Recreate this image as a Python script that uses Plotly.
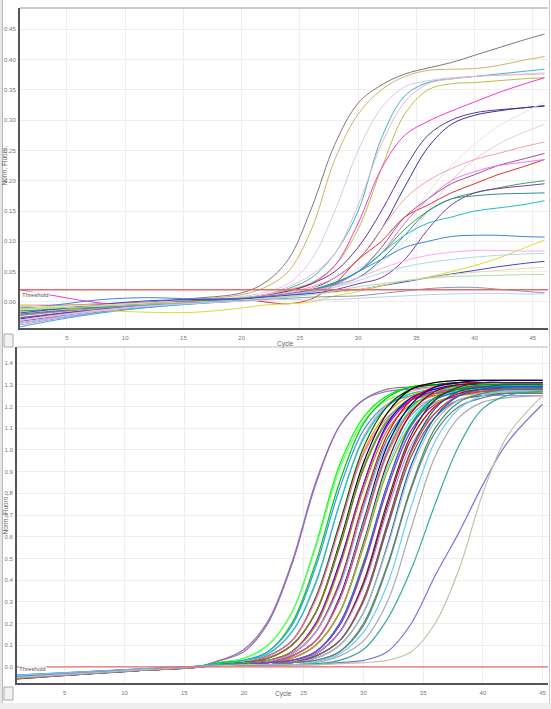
import plotly.graph_objects as go

# ---------------- data: top panel (Norm. Fluoro. vs Cycle) ----------------
cycles_top = [1, 4, 8, 12, 16, 20, 22, 24, 26, 28, 30, 32, 34, 36, 38, 40, 42, 44, 46]
top_colors = ["#7a7a7a", "#d4b06a", "#d8c8e8", "#33bbbb", "#b8c040", "#f4b0d8",
              "#ff33cc", "#663399", "#333399", "#e4e4ea", "#e8d0d6", "#f4a0a8",
              "#995588", "#e03030", "#ee77ee", "#33aa44", "#8833aa", "#338899",
              "#22bbcc", "#3388dd", "#dddd33", "#ffaaee", "#aadddd", "#4444cc",
              "#e8d8a0", "#aaddaa", "#8899aa", "#c8c8f0"]
top_values = [
    [-0.008, -0.006, -0.003, 0.0, 0.006, 0.015, 0.032, 0.07, 0.155, 0.26, 0.328, 0.358, 0.376, 0.386, 0.395, 0.407, 0.419, 0.431, 0.442],
    [-0.015, -0.012, -0.007, -0.002, 0.004, 0.012, 0.024, 0.05, 0.12, 0.235, 0.31, 0.35, 0.372, 0.382, 0.384, 0.385, 0.39, 0.398, 0.405],
    [-0.02, -0.015, -0.009, -0.004, 0.002, 0.009, 0.016, 0.03, 0.07, 0.15, 0.25, 0.32, 0.355, 0.365, 0.37, 0.372, 0.374, 0.376, 0.378],
    [-0.03, -0.022, -0.013, -0.006, 0.0, 0.006, 0.012, 0.022, 0.04, 0.08, 0.15, 0.27, 0.34, 0.362, 0.368, 0.372, 0.376, 0.38, 0.384],
    [-0.012, -0.01, -0.006, -0.002, 0.002, 0.007, 0.012, 0.02, 0.032, 0.06, 0.12, 0.22, 0.31, 0.35, 0.36, 0.362, 0.365, 0.368, 0.37],
    [-0.025, -0.019, -0.011, -0.005, 0.0, 0.006, 0.012, 0.025, 0.045, 0.08, 0.16, 0.26, 0.33, 0.36, 0.368, 0.372, 0.374, 0.375, 0.376],
    [0.02, 0.01, -0.002, -0.004, -0.001, 0.004, 0.01, 0.018, 0.03, 0.06, 0.13, 0.22, 0.275, 0.298, 0.315, 0.33, 0.345, 0.358, 0.37],
    [-0.035, -0.026, -0.016, -0.008, -0.002, 0.005, 0.01, 0.018, 0.03, 0.05, 0.09, 0.15, 0.22, 0.275, 0.3, 0.312, 0.317, 0.32, 0.324],
    [-0.028, -0.02, -0.012, -0.005, 0.0, 0.004, 0.008, 0.014, 0.022, 0.04, 0.07, 0.12, 0.19, 0.255, 0.293, 0.308, 0.315, 0.32, 0.323],
    [-0.01, -0.008, -0.005, -0.002, 0.001, 0.004, 0.008, 0.014, 0.022, 0.035, 0.055, 0.085, 0.13, 0.18, 0.225, 0.26, 0.29, 0.31, 0.33],
    [-0.018, -0.014, -0.008, -0.003, 0.0, 0.003, 0.006, 0.01, 0.016, 0.025, 0.04, 0.065, 0.1, 0.15, 0.2, 0.235, 0.26, 0.278, 0.293],
    [-0.005, -0.005, -0.004, -0.001, 0.002, 0.005, 0.01, 0.016, 0.025, 0.04, 0.07, 0.12, 0.17, 0.2, 0.22, 0.235, 0.245, 0.255, 0.264],
    [-0.032, -0.024, -0.014, -0.007, -0.002, 0.003, 0.007, 0.012, 0.02, 0.032, 0.05, 0.09, 0.14, 0.17, 0.195, 0.21, 0.225, 0.235, 0.245],
    [-0.022, -0.016, -0.01, -0.004, 0.002, 0.005, 0.0, -0.003, 0.005, 0.03, 0.07, 0.1, 0.14, 0.16, 0.18, 0.195, 0.21, 0.222, 0.235],
    [-0.038, -0.028, -0.017, -0.009, -0.003, 0.002, 0.006, 0.01, 0.016, 0.028, 0.05, 0.08, 0.13, 0.17, 0.2, 0.215, 0.225, 0.23, 0.235],
    [-0.015, -0.012, -0.008, -0.003, 0.001, 0.004, 0.008, 0.013, 0.02, 0.032, 0.05, 0.08, 0.12, 0.15, 0.17, 0.18, 0.188, 0.195, 0.2],
    [-0.026, -0.02, -0.012, -0.005, 0.0, 0.003, 0.006, 0.01, 0.014, 0.02, 0.03, 0.04, 0.07, 0.12, 0.16, 0.18, 0.187, 0.191, 0.195],
    [-0.02, -0.015, -0.009, -0.003, 0.001, 0.004, 0.008, 0.012, 0.018, 0.028, 0.04, 0.07, 0.11, 0.15, 0.17, 0.175, 0.178, 0.179, 0.18],
    [-0.041, -0.03, -0.018, -0.009, -0.003, 0.002, 0.006, 0.01, 0.017, 0.03, 0.05, 0.08, 0.11, 0.13, 0.14, 0.15, 0.155, 0.16, 0.167],
    [-0.01, -0.005, 0.004, 0.007, 0.005, 0.006, 0.009, 0.013, 0.02, 0.03, 0.05, 0.07, 0.09, 0.1, 0.108, 0.11, 0.11, 0.108, 0.107],
    [-0.005, -0.01, -0.014, -0.017, -0.017, -0.01, -0.005, -0.003, 0.0, 0.01, 0.017, 0.026, 0.034, 0.041, 0.05, 0.06, 0.072, 0.087, 0.102],
    [-0.03, -0.022, -0.013, -0.006, -0.001, 0.003, 0.007, 0.012, 0.018, 0.027, 0.04, 0.055, 0.068, 0.077, 0.082, 0.085, 0.085, 0.084, 0.084],
    [-0.035, -0.026, -0.015, -0.007, -0.002, 0.003, 0.006, 0.01, 0.015, 0.024, 0.035, 0.048, 0.058, 0.065, 0.07, 0.074, 0.077, 0.079, 0.08],
    [-0.018, -0.012, -0.004, 0.002, 0.004, 0.005, 0.008, 0.011, 0.014, 0.017, 0.02, 0.027, 0.033, 0.04, 0.046, 0.052, 0.058, 0.063, 0.067],
    [-0.008, -0.007, -0.005, -0.002, 0.0, 0.003, 0.006, 0.009, 0.012, 0.016, 0.02, 0.027, 0.035, 0.04, 0.045, 0.049, 0.052, 0.055, 0.057],
    [-0.012, -0.01, -0.007, -0.004, -0.001, 0.002, 0.005, 0.008, 0.012, 0.018, 0.025, 0.03, 0.035, 0.039, 0.042, 0.043, 0.044, 0.045, 0.045],
    [-0.022, -0.017, -0.01, -0.005, -0.001, 0.002, 0.004, 0.006, 0.008, 0.009, 0.01, 0.014, 0.018, 0.022, 0.024, 0.024, 0.021, 0.018, 0.015],
    [-0.03, -0.023, -0.014, -0.007, -0.002, 0.001, 0.003, 0.004, 0.003, 0.004, 0.006, 0.008, 0.01, 0.012, 0.013, 0.014, 0.014, 0.013, 0.013],
]
top_threshold = 0.02
top_yticks = [0.00, 0.05, 0.10, 0.15, 0.20, 0.25, 0.30, 0.35, 0.40, 0.45]

# ---------------- data: bottom panel ----------------
cycles_bottom = [1, 6, 11, 16, 18, 20, 22, 24, 26, 28, 30, 32, 34, 36, 38, 40, 42, 45]
bottom_colors = ["#808080", "#9966cc", "#00ff00", "#66ff66", "#00cc00", "#3399ff",
                 "#ff9999", "#00cccc", "#ff9900", "#006600", "#ff66cc", "#000000",
                 "#33cc33", "#996633", "#0000ff", "#cc00cc", "#999900", "#ff0000",
                 "#009999", "#cc99ff", "#000080", "#33ff33", "#999999", "#ff3399",
                 "#990000", "#00ffff", "#cc9900", "#009900", "#3366ff", "#9933cc",
                 "#333333", "#cc0000", "#9999ff", "#006666", "#ff3333", "#666666",
                 "#0066cc", "#bbbbbb", "#339966", "#777777", "#66ccff", "#aaaaaa",
                 "#33aa99", "#7777dd", "#c8c0a8"]
bottom_values = [
    [-0.045, -0.03, -0.014, 0.0, 0.03, 0.07, 0.2, 0.47, 0.84, 1.11, 1.23, 1.28, 1.29, 1.30, 1.30, 1.30, 1.30, 1.30],
    [-0.05, -0.034, -0.016, -0.001, 0.03, 0.08, 0.21, 0.48, 0.85, 1.11, 1.23, 1.27, 1.28, 1.29, 1.29, 1.29, 1.29, 1.29],
    [-0.04, -0.026, -0.012, 0.002, 0.02, 0.04, 0.10, 0.25, 0.56, 0.93, 1.15, 1.25, 1.29, 1.30, 1.30, 1.30, 1.30, 1.30],
    [-0.048, -0.032, -0.015, 0.0, 0.02, 0.04, 0.10, 0.25, 0.55, 0.91, 1.13, 1.23, 1.26, 1.27, 1.28, 1.28, 1.28, 1.28],
    [-0.042, -0.028, -0.013, 0.001, 0.02, 0.03, 0.07, 0.2, 0.48, 0.85, 1.12, 1.24, 1.29, 1.30, 1.31, 1.31, 1.31, 1.31],
    [-0.052, -0.035, -0.017, -0.002, 0.01, 0.03, 0.07, 0.19, 0.46, 0.82, 1.09, 1.21, 1.25, 1.26, 1.27, 1.27, 1.27, 1.27],
    [-0.044, -0.029, -0.014, 0.0, 0.01, 0.025, 0.06, 0.16, 0.38, 0.75, 1.06, 1.21, 1.27, 1.29, 1.30, 1.30, 1.30, 1.30],
    [-0.038, -0.024, -0.01, 0.003, 0.015, 0.03, 0.06, 0.16, 0.39, 0.75, 1.05, 1.20, 1.26, 1.28, 1.29, 1.29, 1.29, 1.29],
    [-0.046, -0.031, -0.015, 0.0, 0.01, 0.02, 0.05, 0.12, 0.31, 0.65, 0.99, 1.17, 1.25, 1.27, 1.28, 1.28, 1.28, 1.28],
    [-0.05, -0.033, -0.016, -0.001, 0.01, 0.02, 0.05, 0.12, 0.32, 0.66, 1.01, 1.20, 1.28, 1.30, 1.31, 1.31, 1.31, 1.31],
    [-0.04, -0.026, -0.011, 0.002, 0.01, 0.02, 0.05, 0.12, 0.31, 0.64, 0.98, 1.15, 1.23, 1.25, 1.26, 1.26, 1.26, 1.26],
    [-0.055, -0.036, -0.018, -0.001, 0.01, 0.02, 0.04, 0.10, 0.25, 0.57, 0.94, 1.17, 1.28, 1.31, 1.32, 1.32, 1.32, 1.32],
    [-0.043, -0.029, -0.014, 0.001, 0.01, 0.02, 0.04, 0.10, 0.25, 0.56, 0.92, 1.14, 1.24, 1.27, 1.28, 1.28, 1.28, 1.28],
    [-0.047, -0.031, -0.015, 0.0, 0.01, 0.02, 0.04, 0.10, 0.25, 0.55, 0.91, 1.13, 1.23, 1.26, 1.27, 1.27, 1.27, 1.27],
    [-0.05, -0.034, -0.017, -0.002, 0.01, 0.02, 0.03, 0.07, 0.2, 0.48, 0.84, 1.12, 1.24, 1.28, 1.30, 1.30, 1.30, 1.30],
    [-0.041, -0.027, -0.012, 0.002, 0.01, 0.02, 0.03, 0.07, 0.2, 0.47, 0.84, 1.11, 1.23, 1.27, 1.29, 1.29, 1.29, 1.29],
    [-0.045, -0.03, -0.014, 0.0, 0.01, 0.02, 0.03, 0.07, 0.19, 0.46, 0.82, 1.09, 1.21, 1.25, 1.27, 1.27, 1.27, 1.27],
    [-0.048, -0.032, -0.016, -0.001, 0.01, 0.01, 0.025, 0.06, 0.16, 0.39, 0.76, 1.07, 1.23, 1.29, 1.31, 1.31, 1.31, 1.31],
    [-0.039, -0.025, -0.011, 0.003, 0.01, 0.015, 0.025, 0.06, 0.16, 0.38, 0.74, 1.05, 1.20, 1.26, 1.28, 1.28, 1.28, 1.28],
    [-0.053, -0.035, -0.017, -0.002, 0.01, 0.01, 0.025, 0.06, 0.16, 0.37, 0.73, 1.03, 1.18, 1.24, 1.26, 1.26, 1.26, 1.26],
    [-0.046, -0.031, -0.015, 0.0, 0.01, 0.01, 0.02, 0.05, 0.12, 0.32, 0.67, 1.02, 1.21, 1.29, 1.31, 1.32, 1.32, 1.32],
    [-0.042, -0.028, -0.013, 0.001, 0.01, 0.01, 0.02, 0.05, 0.12, 0.31, 0.66, 1.00, 1.19, 1.27, 1.29, 1.30, 1.30, 1.30],
    [-0.05, -0.033, -0.016, -0.001, 0.01, 0.01, 0.02, 0.05, 0.12, 0.31, 0.64, 0.98, 1.16, 1.24, 1.26, 1.27, 1.27, 1.27],
    [-0.044, -0.029, -0.014, 0.0, 0.01, 0.01, 0.02, 0.05, 0.12, 0.31, 0.65, 0.99, 1.18, 1.26, 1.28, 1.29, 1.29, 1.29],
    [-0.047, -0.031, -0.015, 0.0, 0.01, 0.01, 0.02, 0.04, 0.10, 0.25, 0.57, 0.94, 1.17, 1.27, 1.30, 1.31, 1.31, 1.31],
    [-0.04, -0.026, -0.012, 0.002, 0.01, 0.01, 0.02, 0.04, 0.10, 0.25, 0.56, 0.92, 1.14, 1.24, 1.27, 1.28, 1.28, 1.28],
    [-0.052, -0.034, -0.017, -0.002, 0.01, 0.01, 0.02, 0.04, 0.10, 0.25, 0.55, 0.90, 1.12, 1.22, 1.25, 1.26, 1.26, 1.26],
    [-0.045, -0.03, -0.014, 0.0, 0.01, 0.01, 0.02, 0.03, 0.07, 0.2, 0.48, 0.84, 1.12, 1.24, 1.28, 1.30, 1.30, 1.30],
    [-0.049, -0.032, -0.016, -0.001, 0.01, 0.01, 0.02, 0.03, 0.07, 0.2, 0.47, 0.84, 1.11, 1.23, 1.27, 1.29, 1.29, 1.29],
    [-0.041, -0.027, -0.012, 0.002, 0.01, 0.01, 0.02, 0.03, 0.07, 0.19, 0.46, 0.82, 1.09, 1.21, 1.25, 1.27, 1.27, 1.27],
    [-0.05, -0.033, -0.016, -0.001, 0.01, 0.01, 0.01, 0.025, 0.06, 0.16, 0.39, 0.76, 1.07, 1.23, 1.29, 1.31, 1.31, 1.31],
    [-0.044, -0.029, -0.014, 0.0, 0.01, 0.01, 0.01, 0.025, 0.06, 0.16, 0.38, 0.74, 1.05, 1.20, 1.26, 1.28, 1.28, 1.28],
    [-0.038, -0.024, -0.01, 0.003, 0.01, 0.01, 0.01, 0.025, 0.06, 0.16, 0.37, 0.72, 1.02, 1.17, 1.23, 1.25, 1.25, 1.25],
    [-0.047, -0.031, -0.015, 0.0, 0.01, 0.01, 0.01, 0.02, 0.05, 0.12, 0.31, 0.66, 1.00, 1.19, 1.27, 1.29, 1.30, 1.30],
    [-0.053, -0.035, -0.017, -0.002, 0.01, 0.01, 0.01, 0.02, 0.05, 0.12, 0.31, 0.65, 0.99, 1.17, 1.25, 1.27, 1.28, 1.28],
    [-0.042, -0.028, -0.013, 0.001, 0.01, 0.01, 0.01, 0.02, 0.05, 0.12, 0.30, 0.64, 0.97, 1.15, 1.23, 1.25, 1.26, 1.26],
    [-0.045, -0.03, -0.014, 0.0, 0.01, 0.01, 0.01, 0.02, 0.04, 0.10, 0.25, 0.56, 0.93, 1.15, 1.25, 1.28, 1.29, 1.29],
    [-0.05, -0.033, -0.016, -0.001, 0.01, 0.01, 0.01, 0.02, 0.04, 0.10, 0.25, 0.55, 0.91, 1.13, 1.23, 1.26, 1.27, 1.27],
    [-0.043, -0.029, -0.014, 0.001, 0.01, 0.01, 0.01, 0.02, 0.03, 0.07, 0.2, 0.47, 0.83, 1.10, 1.22, 1.26, 1.28, 1.28],
    [-0.048, -0.032, -0.015, 0.0, 0.01, 0.01, 0.01, 0.02, 0.03, 0.07, 0.19, 0.46, 0.82, 1.08, 1.20, 1.24, 1.26, 1.26],
    [-0.04, -0.026, -0.012, 0.002, 0.01, 0.01, 0.01, 0.01, 0.025, 0.06, 0.16, 0.38, 0.74, 1.04, 1.19, 1.25, 1.27, 1.27],
    [-0.046, -0.03, -0.015, 0.0, 0.01, 0.01, 0.01, 0.01, 0.02, 0.05, 0.12, 0.30, 0.64, 0.97, 1.15, 1.22, 1.24, 1.25],
    [-0.05, -0.033, -0.016, 0.0, 0.01, 0.01, 0.01, 0.01, 0.015, 0.03, 0.08, 0.22, 0.45, 0.75, 1.02, 1.19, 1.25, 1.27],
    [-0.044, -0.029, -0.014, 0.0, 0.005, 0.01, 0.01, 0.01, 0.01, 0.02, 0.03, 0.07, 0.2, 0.42, 0.62, 0.84, 1.03, 1.21],
    [-0.048, -0.032, -0.015, 0.0, 0.005, 0.01, 0.01, 0.01, 0.01, 0.015, 0.02, 0.03, 0.07, 0.2, 0.45, 0.8, 1.06, 1.25],
]
bottom_threshold = 0.0
bottom_yticks = [0.0, 0.1, 0.2, 0.3, 0.4, 0.5, 0.6, 0.7, 0.8, 0.9, 1.0, 1.1, 1.2, 1.3, 1.4]
x_ticks = [5, 10, 15, 20, 25, 30, 35, 40, 45]

# ---------------- figure ----------------
W, H = 551, 709
fig = go.Figure()

for vals, col in zip(top_values, top_colors):
    fig.add_trace(go.Scatter(x=cycles_top, y=vals, mode="lines", xaxis="x", yaxis="y",
                             line=dict(color=col, width=1.0, shape="spline", smoothing=1.0),
                             hoverinfo="skip", showlegend=False))
for vals, col in zip(bottom_values, bottom_colors):
    fig.add_trace(go.Scatter(x=cycles_bottom, y=vals, mode="lines", xaxis="x2", yaxis="y2",
                             line=dict(color=col, width=1.2, shape="spline", smoothing=1.0),
                             hoverinfo="skip", showlegend=False))

def px_x(p):
    return p / W

def px_y(p):
    return 1 - p / H

tick_font = dict(family="Liberation Sans, Arial, sans-serif", size=6, color="#777777")
grid_col = "#eeeeee"
axis_col = "#555555"

fig.update_layout(
    width=W, height=H, margin=dict(l=0, r=0, t=0, b=0),
    paper_bgcolor="white", plot_bgcolor="white",
    xaxis=dict(domain=[px_x(20), px_x(548)], range=[0.97, 46.3], tickvals=x_ticks,
               showgrid=True, gridcolor=grid_col, gridwidth=1, zeroline=False,
               showline=True, linecolor=axis_col, linewidth=2, ticks="", ticklabelstandoff=3,
               tickfont=tick_font, anchor="y"),
    yaxis=dict(domain=[px_y(328), px_y(8)], range=[-0.043, 0.485], tickvals=top_yticks,
               tickformat=".2f", showgrid=True, gridcolor=grid_col, gridwidth=1, zeroline=False,
               showline=True, linecolor=axis_col, linewidth=2, ticks="", ticklabelstandoff=1,
               tickfont=tick_font, anchor="x"),
    xaxis2=dict(domain=[px_x(17), px_x(548)], range=[1.0, 45.45], tickvals=x_ticks,
                showgrid=True, gridcolor=grid_col, gridwidth=1, zeroline=False,
                showline=True, linecolor=axis_col, linewidth=2, ticks="", ticklabelstandoff=3,
                tickfont=tick_font, anchor="y2"),
    yaxis2=dict(domain=[px_y(683), px_y(347)], range=[-0.074, 1.474], tickvals=bottom_yticks,
                tickformat=".1f", showgrid=True, gridcolor=grid_col, gridwidth=1, zeroline=False,
                showline=True, linecolor=axis_col, linewidth=2, ticks="", ticklabelstandoff=1,
                tickfont=tick_font, anchor="x2"),
)

shapes = [
    # window background pieces (behind everything)
    dict(type="rect", xref="paper", yref="paper", x0=0, x1=px_x(2), y0=0, y1=1,
         fillcolor="#e6e6e6", line=dict(width=0), layer="below"),
    dict(type="line", xref="paper", yref="paper", x0=px_x(2.5), x1=px_x(2.5), y0=px_y(703), y1=1,
         line=dict(color="#b8b8b8", width=1), layer="below"),
    dict(type="line", xref="paper", yref="paper", x0=px_x(549.5), x1=px_x(549.5), y0=px_y(703), y1=1,
         line=dict(color="#c8c8c8", width=1), layer="below"),
    dict(type="rect", xref="paper", yref="paper", x0=0, x1=1, y0=0, y1=px_y(703),
         fillcolor="#eeeeee", line=dict(width=0), layer="below"),
    # threshold lines
    dict(type="line", xref="x domain", yref="y", x0=0, x1=1, y0=top_threshold, y1=top_threshold,
         line=dict(color="#e86a6a", width=1.5), layer="above"),
    dict(type="line", xref="x2 domain", yref="y2", x0=0, x1=1, y0=bottom_threshold, y1=bottom_threshold,
         line=dict(color="#e86a6a", width=1.2), layer="above"),
    # top borders of plot frames
    dict(type="line", xref="paper", yref="paper", x0=px_x(20), x1=px_x(548), y0=px_y(8), y1=px_y(8),
         line=dict(color="#999999", width=1)),
    dict(type="line", xref="paper", yref="paper", x0=px_x(17), x1=px_x(548), y0=px_y(347), y1=px_y(347),
         line=dict(color="#bbbbbb", width=1)),
    # tool buttons
    dict(type="rect", xref="paper", yref="paper", x0=px_x(4), x1=px_x(13), y0=px_y(347), y1=px_y(334),
         fillcolor="#f2f2f2", line=dict(color="#aaaaaa", width=1)),
    dict(type="rect", xref="paper", yref="paper", x0=px_x(4), x1=px_x(13), y0=px_y(700), y1=px_y(687),
         fillcolor="#f2f2f2", line=dict(color="#aaaaaa", width=1)),
]
fig.update_layout(shapes=shapes)

lab_font = dict(family="Liberation Sans, Arial, sans-serif", size=6.5, color="#666666")
annotations = [
    dict(text="Norm. Fluoro.", xref="paper", yref="paper", x=px_x(4.5), y=px_y(166),
         xanchor="center", yanchor="middle",
         textangle=-90, showarrow=False, font=lab_font),
    dict(text="Norm. Fluoro.", xref="paper", yref="paper", x=px_x(4.5), y=px_y(515),
         xanchor="center", yanchor="middle",
         textangle=-90, showarrow=False, font=lab_font),
    dict(text="Cycle", xref="paper", yref="paper", x=px_x(285), y=px_y(344),
         showarrow=False, font=lab_font),
    dict(text="Cycle", xref="paper", yref="paper", x=px_x(283), y=px_y(700),
         showarrow=False, font=lab_font),
    dict(text="Threshold", xref="paper", yref="paper", x=px_x(21), y=px_y(295), xanchor="left",
         showarrow=False, font=dict(family="Liberation Sans, Arial, sans-serif", size=6, color="#555555"),
         bgcolor="rgba(255,255,255,0.85)", borderpad=0),
    dict(text="Threshold", xref="paper", yref="paper", x=px_x(18), y=px_y(673), xanchor="left",
         showarrow=False, font=dict(family="Liberation Sans, Arial, sans-serif", size=6, color="#555555"),
         bgcolor="rgba(255,255,255,0.85)", borderpad=0),
]
fig.update_layout(annotations=annotations)

fig.write_html("out.html")
